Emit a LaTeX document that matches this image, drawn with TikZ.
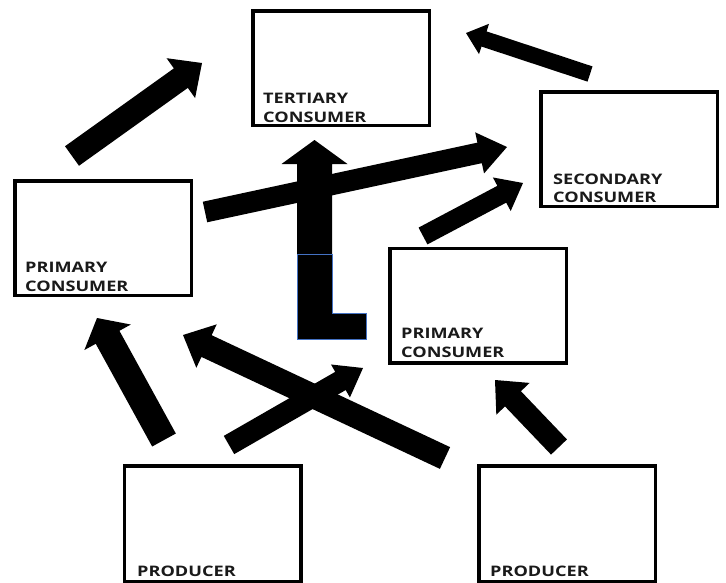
\documentclass[tikz,border=0pt]{standalone}
\usepackage{fontspec}
\newfontfamily\lblfont[FakeStretch=1.25]{Open Sans}
\usetikzlibrary{calc}
\definecolor{outlineblue}{HTML}{4472C4}
\definecolor{txt}{HTML}{1A1A1A}
\newcommand\blockarr[5]{%
  \coordinate (bab) at ($(#2)!#5!(#1)$);
  \fill[black] ($(#1)!#3!90:(#2)$) -- ($(bab)!#3!90:(#2)$) -- ($(bab)!#4!90:(#2)$) -- (#2)
    -- ($(bab)!#4!-90:(#2)$) -- ($(bab)!#3!-90:(#2)$) -- ($(#1)!#3!-90:(#2)$) -- cycle;}
\tikzset{
  box/.style={draw=black, line width=3.5pt, minimum width=176.5pt, minimum height=114.5pt, inner sep=0pt},
  lbl/.style={font=\lblfont\bfseries\fontsize{14.5}{17}\selectfont, text=txt, inner sep=0pt, anchor=base west},
}
\begin{document}
\begin{tikzpicture}[x=1pt,y=-1pt]
\useasboundingbox (0,0) rectangle (726,582);
\fill[white] (0,0) rectangle (726,582);
% boxes
\node[box] (tert) at (341,68) {};
\node[box] (sec) at (629,149) {};
\node[box] (prl) at (103,238) {};
\node[box] (prm) at (478,305.5) {};
\node[box, minimum height=115.5pt] (pdl) at (212.5,523.5) {};
\node[box, minimum height=115.5pt] (pdr) at (567,523.5) {};
% labels
\node[lbl] (t1) at (263,103) {TERTIARY};
\node[lbl] (t2) at (263,122) {CONSUMER};
\node[lbl] (s1) at (553,184) {SECONDARY};
\node[lbl] (s2) at (553,202) {CONSUMER};
\node[lbl] (l1) at (25,272) {PRIMARY};
\node[lbl] (l2) at (25,291) {CONSUMER};
\node[lbl] (m1) at (401,338) {PRIMARY};
\node[lbl] (m2) at (401,357) {CONSUMER};
\node[lbl] (p1) at (137,576) {PRODUCER};
\node[lbl] (p2) at (490,576) {PRODUCER};
% arrow end points
\coordinate (a1s) at (72,156);   \coordinate (a1e) at (202,63);
\coordinate (a2s) at (590,74);   \coordinate (a2e) at (466,33);
\coordinate (a3s) at (205,212);  \coordinate (a3e) at (507,147);
\coordinate (a4s) at (423,236);  \coordinate (a4e) at (523,183);
\coordinate (a5s) at (314.5,254);\coordinate (a5e) at (314.5,140);
\coordinate (a6s) at (164,440);  \coordinate (a6e) at (97,318);
\coordinate (a7s) at (229,445);  \coordinate (a7e) at (363,368);
\coordinate (a8s) at (445,458);  \coordinate (a8e) at (183,335);
\coordinate (a9s) at (559,447);  \coordinate (a9e) at (495,380);
% arrows
\blockarr{a1s}{a1e}{12pt}{24.5pt}{26pt}
\blockarr{a2s}{a2e}{8pt}{16pt}{19pt}
\blockarr{a3s}{a3e}{10.5pt}{21pt}{28pt}
\blockarr{a4s}{a4e}{9.5pt}{19pt}{24pt}
\blockarr{a5s}{a5e}{17.5pt}{33pt}{24pt}
\blockarr{a6s}{a6e}{13.5pt}{26.5pt}{22pt}
\blockarr{a7s}{a7e}{10.5pt}{19pt}{26pt}
\blockarr{a8s}{a8e}{12pt}{24pt}{26pt}
\blockarr{a9s}{a9e}{11pt}{23pt}{26pt}
% L-shaped block
\filldraw[fill=black, draw=outlineblue, line width=1pt]
  (297,254) -- (332,254) -- (332,313) -- (366,313) -- (366,339) -- (297,339) -- cycle;
\end{tikzpicture}
\end{document}
